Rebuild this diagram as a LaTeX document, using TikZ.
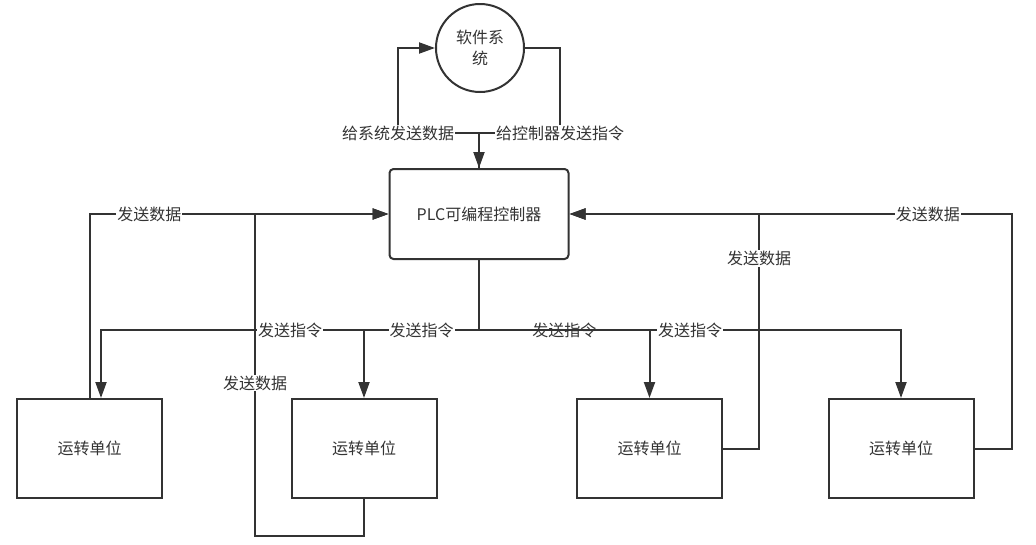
\documentclass[tikz,border=0pt]{standalone}
\usepackage{fontspec}
\setmainfont{Noto Sans CJK SC}
\usetikzlibrary{arrows.meta}
\definecolor{ink}{HTML}{333333}
\begin{document}
\begin{tikzpicture}[x=1pt,y=-1pt,line width=2pt,color=ink,
  unit/.style={draw,minimum width=145pt,minimum height=99pt,inner sep=0pt,font=\fontsize{16}{20}\selectfont},
  plcbox/.style={draw,rounded corners=4pt,minimum width=179pt,minimum height=90pt,inner sep=0pt,font=\fontsize{16}{20}\selectfont},
  sysc/.style={draw,circle,minimum size=88pt,inner sep=0pt,align=center,font=\fontsize{16}{21}\selectfont},
  lab/.style={fill=white,inner sep=1pt,font=\fontsize{16}{20}\selectfont},
  arr/.style={-{Triangle[length=16pt,width=11pt]}}]
\useasboundingbox (0,0) rectangle (1036,544);

\node[sysc] (sys) at (480,48) {软件系\\统};
\node[plcbox] (plc) at (479,214) {PLC可编程控制器};
\node[unit] (u1) at (89.5,448.5) {运转单位};
\node[unit] (u2) at (364,448.5) {运转单位};
\node[unit] (u3) at (649.5,448.5) {运转单位};
\node[unit] (u4) at (901,448.5) {运转单位};

\coordinate (tl) at (398,133);
\coordinate (tr) at (560,133);
\coordinate (bus) at (479,330);
\coordinate (c2) at (255,536);
\coordinate (c3) at (759,214);
\coordinate (c4) at (1012,214);

% software system <-> PLC
\draw[arr] (plc.north) |- (tl) node[lab] (l1) {给系统发送数据} |- (sys.west);
\draw[arr] (sys.east) -| (tr) node[lab] (l2) {给控制器发送指令} -| (plc.north);

% PLC -> units
\draw[arr] (plc.south) -- (bus) -| node[lab,pos=0.25] (l3) {发送指令} ([xshift=11.5pt]u1.north);
\draw[arr] (plc.south) -- (bus) -| node[lab,pos=0.25] (l4) {发送指令} (u2.north);
\draw[arr] (plc.south) -- (bus) -| node[lab,pos=0.25] (l5) {发送指令} (u3.north);
\draw[arr] (plc.south) -- (bus) -| node[lab,pos=0.25] (l6) {发送指令} (u4.north);

% units -> PLC
\draw[arr] (u1.north) |- node[lab,pos=0.6] (l7) {发送数据} (plc.west);
\draw[arr] (u2.south) |- (c2) -- node[lab,pos=0.475] (l8) {发送数据} (c2 |- plc.west) -- (plc.west);
\draw[arr] (u3.east) -| node[lab,pos=0.905] (l9) {发送数据} (c3) -- (plc.east);
\draw[arr] (u4.east) -| (c4) -- node[lab,pos=0.19] (l10) {发送数据} (plc.east);
\end{tikzpicture}
\end{document}
